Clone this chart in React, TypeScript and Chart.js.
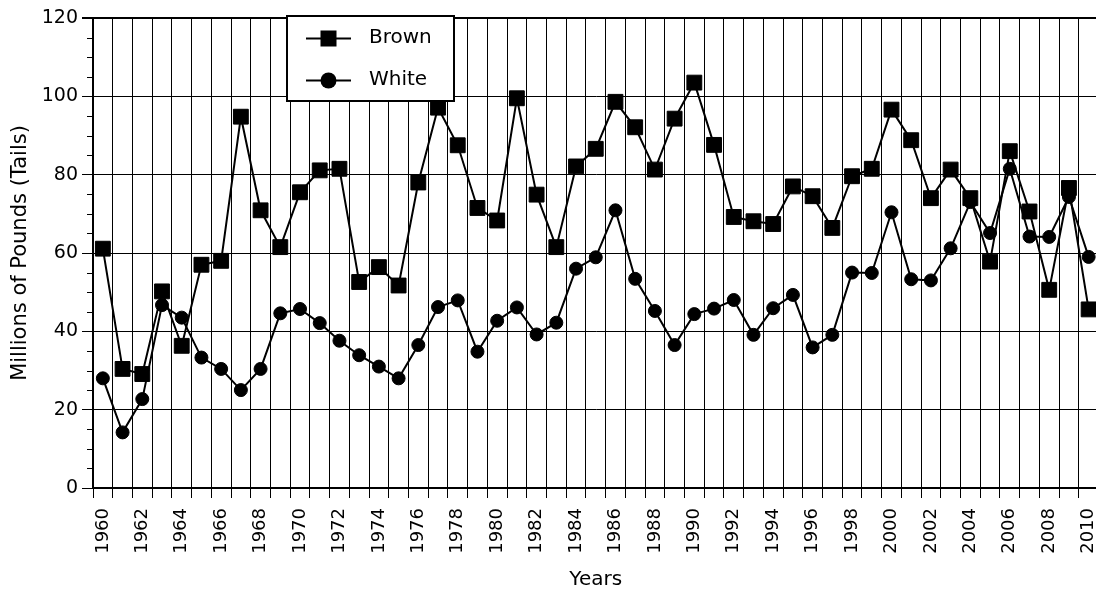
import React, { useEffect, useRef } from 'react';
import { Chart, registerables } from 'chart.js';

Chart.register(...registerables);

const years = [
  '1960', '1961', '1962', '1963', '1964', '1965', '1966', '1967', '1968', '1969',
  '1970', '1971', '1972', '1973', '1974', '1975', '1976', '1977', '1978', '1979',
  '1980', '1981', '1982', '1983', '1984', '1985', '1986', '1987', '1988', '1989',
  '1990', '1991', '1992', '1993', '1994', '1995', '1996', '1997', '1998', '1999',
  '2000', '2001', '2002', '2003', '2004', '2005', '2006', '2007', '2008', '2009',
  '2010',
];

const brown = [
  61.1, 30.4, 29.1, 50.2, 36.3, 57.0, 58.0, 94.8, 70.9, 61.5,
  75.5, 81.1, 81.5, 52.6, 56.4, 51.7, 78.0, 97.1, 87.5, 71.5,
  68.3, 99.5, 74.9, 61.5, 82.1, 86.6, 98.6, 92.1, 81.3, 94.3,
  103.5, 87.6, 69.2, 68.1, 67.4, 77.0, 74.5, 66.4, 79.6, 81.5,
  96.6, 88.8, 74.0, 81.3, 74.0, 57.8, 86.0, 70.6, 50.6, 76.6,
  45.6,
];

const white = [
  28.0, 14.2, 22.7, 46.7, 43.5, 33.3, 30.4, 25.0, 30.4, 44.6,
  45.7, 42.1, 37.6, 33.9, 31.0, 28.0, 36.5, 46.2, 47.9, 34.8,
  42.7, 46.1, 39.2, 42.2, 56.0, 58.9, 70.9, 53.4, 45.2, 36.5,
  44.4, 45.8, 48.0, 39.1, 45.9, 49.3, 35.9, 39.1, 55.0, 54.9,
  70.4, 53.3, 53.0, 61.2, 73.0, 65.1, 81.5, 64.2, 64.1, 74.3,
  59.0,
];

const seriesNames = ['Brown', 'White'];
const yMin = 0;
const yMax = 120;
const yMajorStep = 20;
const yMinorStep = 5;
const xLabelEvery = 2;

const FONT = '"DejaVu Sans", "Liberation Sans", Arial, sans-serif';

const extras = {
  id: 'extras',
  afterDraw(chart: any) {
    const ctx = chart.ctx as CanvasRenderingContext2D;
    const ys = chart.scales.y;
    const area = chart.chartArea;
    ctx.save();
    ctx.strokeStyle = '#000';
    // minor ticks on y axis
    ctx.lineWidth = 1;
    for (let v = yMin; v <= yMax; v += yMinorStep) {
      if (v % yMajorStep === 0) continue;
      const py = Math.round(ys.getPixelForValue(v)) + 0.5;
      ctx.beginPath();
      ctx.moveTo(area.left - 6, py);
      ctx.lineTo(area.left, py);
      ctx.stroke();
    }
    // legend box
    const bx = 287, by = 16, bw = 167, bh = 85;
    ctx.fillStyle = '#fff';
    ctx.fillRect(bx, by, bw, bh);
    ctx.lineWidth = 2;
    ctx.strokeStyle = '#000';
    ctx.strokeRect(bx, by, bw, bh);
    const rows = [38.5, 80.5];
    chart.data.datasets.forEach((ds: any, i: number) => {
      const cy = rows[i];
      ctx.lineWidth = 2;
      ctx.beginPath();
      ctx.moveTo(306, cy);
      ctx.lineTo(351, cy);
      ctx.stroke();
      ctx.fillStyle = '#000';
      if (ds.pointStyle === 'rect') {
        ctx.fillRect(328.5 - 8, cy - 8, 16, 16);
      } else {
        ctx.beginPath();
        ctx.arc(328.5, cy, 8, 0, Math.PI * 2);
        ctx.fill();
      }
      ctx.font = `20px ${FONT}`;
      ctx.textAlign = 'left';
      ctx.textBaseline = 'middle';
      ctx.fillText(ds.label, 369, cy - 1);
    });
    ctx.restore();
  },
};

export default function App() {
  const ref = useRef<HTMLCanvasElement | null>(null);

  useEffect(() => {
    if (!ref.current) return;
    const chart = new Chart(ref.current, {
      type: 'line',
      data: {
        labels: years,
        datasets: [
          {
            label: seriesNames[0],
            data: brown,
            borderColor: '#000',
            backgroundColor: '#000',
            borderWidth: 2,
            pointStyle: 'rect',
            pointRadius: 10.5,
            pointBorderWidth: 1,
            pointBackgroundColor: '#000',
            pointBorderColor: '#000',
            tension: 0,
          },
          {
            label: seriesNames[1],
            data: white,
            borderColor: '#000',
            backgroundColor: '#000',
            borderWidth: 2,
            pointStyle: 'circle',
            pointRadius: 6.5,
            pointBorderWidth: 1,
            pointBackgroundColor: '#000',
            pointBorderColor: '#000',
            tension: 0,
          },
        ],
      },
      options: {
        animation: false,
        responsive: true,
        maintainAspectRatio: false,
        layout: { padding: { top: 18, left: 0, right: 0, bottom: 0 } },
        plugins: {
          legend: { display: false },
          tooltip: { enabled: false },
        },
        scales: {
          x: {
            type: 'category',
            offset: true,
            afterFit: (s: any) => {
              s.height = 106;
              s.paddingLeft = 0;
              s.paddingRight = 0;
            },
            grid: {
              offset: true,
              color: '#000',
              lineWidth: 1,
              tickLength: 10,
              tickColor: '#000',
              drawTicks: true,
            },
            border: { display: true, color: '#000', width: 2 },
            ticks: {
              autoSkip: false,
              minRotation: 90,
              maxRotation: 90,
              padding: 10,
              color: '#000',
              font: { family: FONT, size: 18 },
              callback: (_v: any, i: number) =>
                Number(years[i]) % xLabelEvery === 0 ? years[i] : '',
            },
            title: {
              display: true,
              text: 'Years',
              color: '#000',
              font: { family: FONT, size: 20 },
              padding: { top: 0, bottom: 2 },
            },
          },
          y: {
            min: yMin,
            max: yMax,
            afterFit: (s: any) => {
              s.width = 93;
            },
            grid: {
              color: (c: any) => (c.tick && c.tick.value % yMajorStep === 0 ? '#000' : 'rgba(0,0,0,0)'),
              lineWidth: (c: any) => (c.tick && c.tick.value === yMax ? 2 : 1),
              tickLength: 11,
              tickColor: (c: any) => (c.tick && c.tick.value % yMajorStep === 0 ? '#000' : 'rgba(0,0,0,0)'),
            },
            border: { display: true, color: '#000', width: 2 },
            ticks: {
              stepSize: yMinorStep,
              autoSkip: false,
              padding: 4,
              color: '#000',
              font: { family: FONT, size: 19 },
              callback: (v: any) => (Number(v) % yMajorStep === 0 ? String(v) : ''),
            },
            title: {
              display: true,
              text: 'Millions of Pounds (Tails)',
              color: '#000',
              font: { family: FONT, size: 21 },
              padding: { top: 8, bottom: 0 },
            },
          },
        },
      },
      plugins: [extras],
    });
    return () => chart.destroy();
  }, []);

  return (
    <div
      style={{
        position: 'fixed',
        left: 0,
        top: 0,
        width: 1096,
        height: 594,
        overflow: 'hidden',
        background: '#fff',
      }}
    >
      <div style={{ position: 'relative', width: 1110, height: 594 }}>
        <canvas ref={ref} />
      </div>
    </div>
  );
}
